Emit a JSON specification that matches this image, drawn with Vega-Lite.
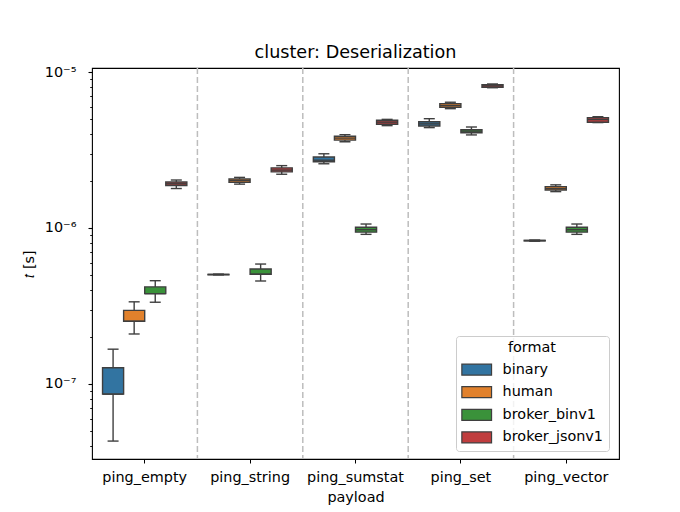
{
  "$schema": "https://vega.github.io/schema/vega-lite/v6.json",
  "width": 527,
  "height": 391,
  "autosize": {"type": "none"},
  "padding": {"left": 92, "top": 68, "right": 61, "bottom": 53},
  "background": "white",
  "title": {"text": "cluster: Deserialization", "fontSize": 17.6, "font": "DejaVu Sans", "fontWeight": "normal", "color": "black", "offset": -12, "baseline": "alphabetic", "anchor": "middle", "frame": "group"},
  "datasets": {
    "boxes": [
      {"payload": "ping_empty", "format": "binary", "lo": 4.3e-8, "q1": 8.6e-8, "med": 8.6e-8, "q3": 1.27e-7, "hi": 1.67e-7},
      {"payload": "ping_empty", "format": "human", "lo": 2.09e-7, "q1": 2.52e-7, "med": 2.52e-7, "q3": 2.96e-7, "hi": 3.36e-7},
      {"payload": "ping_empty", "format": "broker_binv1", "lo": 3.34e-7, "q1": 3.79e-7, "med": 3.79e-7, "q3": 4.19e-7, "hi": 4.59e-7},
      {"payload": "ping_empty", "format": "broker_jsonv1", "lo": 1.79e-6, "q1": 1.87e-6, "med": 1.92e-6, "q3": 1.97e-6, "hi": 2.03e-6},
      {"payload": "ping_string", "format": "binary", "lo": 5.0e-7, "q1": 5.01e-7, "med": 5.03e-7, "q3": 5.04e-7, "hi": 5.06e-7},
      {"payload": "ping_string", "format": "human", "lo": 1.91e-6, "q1": 1.96e-6, "med": 2.01e-6, "q3": 2.06e-6, "hi": 2.11e-6},
      {"payload": "ping_string", "format": "broker_binv1", "lo": 4.57e-7, "q1": 5.05e-7, "med": 5.05e-7, "q3": 5.46e-7, "hi": 5.87e-7},
      {"payload": "ping_string", "format": "broker_jsonv1", "lo": 2.21e-6, "q1": 2.29e-6, "med": 2.35e-6, "q3": 2.43e-6, "hi": 2.51e-6},
      {"payload": "ping_sumstat", "format": "binary", "lo": 2.58e-6, "q1": 2.66e-6, "med": 2.72e-6, "q3": 2.85e-6, "hi": 2.99e-6},
      {"payload": "ping_sumstat", "format": "human", "lo": 3.57e-6, "q1": 3.66e-6, "med": 3.77e-6, "q3": 3.87e-6, "hi": 3.97e-6},
      {"payload": "ping_sumstat", "format": "broker_binv1", "lo": 9.1e-7, "q1": 9.4e-7, "med": 9.75e-7, "q3": 1.01e-6, "hi": 1.06e-6},
      {"payload": "ping_sumstat", "format": "broker_jsonv1", "lo": 4.53e-6, "q1": 4.62e-6, "med": 4.77e-6, "q3": 4.9e-6, "hi": 4.97e-6},
      {"payload": "ping_set", "format": "binary", "lo": 4.4e-6, "q1": 4.51e-6, "med": 4.65e-6, "q3": 4.8e-6, "hi": 5.02e-6},
      {"payload": "ping_set", "format": "human", "lo": 5.82e-6, "q1": 5.94e-6, "med": 6.1e-6, "q3": 6.27e-6, "hi": 6.4e-6},
      {"payload": "ping_set", "format": "broker_binv1", "lo": 3.95e-6, "q1": 4.08e-6, "med": 4.18e-6, "q3": 4.27e-6, "hi": 4.44e-6},
      {"payload": "ping_set", "format": "broker_jsonv1", "lo": 7.93e-6, "q1": 7.98e-6, "med": 8.15e-6, "q3": 8.29e-6, "hi": 8.38e-6},
      {"payload": "ping_vector", "format": "binary", "lo": 8.22e-7, "q1": 8.26e-7, "med": 8.3e-7, "q3": 8.33e-7, "hi": 8.37e-7},
      {"payload": "ping_vector", "format": "human", "lo": 1.71e-6, "q1": 1.75e-6, "med": 1.79e-6, "q3": 1.84e-6, "hi": 1.89e-6},
      {"payload": "ping_vector", "format": "broker_binv1", "lo": 9.1e-7, "q1": 9.4e-7, "med": 9.75e-7, "q3": 1.01e-6, "hi": 1.06e-6},
      {"payload": "ping_vector", "format": "broker_jsonv1", "lo": 4.74e-6, "q1": 4.76e-6, "med": 4.95e-6, "q3": 5.09e-6, "hi": 5.17e-6}
    ],
    "dividers": [
      {"payload": "ping_empty"},
      {"payload": "ping_string"},
      {"payload": "ping_sumstat"},
      {"payload": "ping_set"}
    ]
  },
  "encoding": {
    "x": {
      "field": "payload", "type": "nominal", "title": "payload",
      "sort": ["ping_empty", "ping_string", "ping_sumstat", "ping_set", "ping_vector"],
      "scale": {"paddingInner": 0, "paddingOuter": 0},
      "axis": {"labelAngle": 0, "tickSize": 4, "labelPadding": 7, "titlePadding": 7}
    },
    "xOffset": {
      "field": "format", "type": "nominal",
      "sort": ["binary", "human", "broker_binv1", "broker_jsonv1"],
      "scale": {"paddingInner": 0, "paddingOuter": 0.5}
    }
  },
  "layer": [
    {
      "data": {"name": "dividers"},
      "mark": {"type": "rule", "color": "#bdbdbd", "strokeWidth": 1.5, "strokeDash": [6, 3]},
      "encoding": {
        "x": {"field": "payload", "type": "nominal", "bandPosition": 1, "title": "payload",
          "sort": ["ping_empty", "ping_string", "ping_sumstat", "ping_set", "ping_vector"]},
        "xOffset": null
      }
    },
    {
      "data": {"name": "boxes"},
      "mark": {"type": "rule", "color": "#3f3f3f", "strokeWidth": 1.4},
      "encoding": {
        "y": {
          "field": "lo", "type": "quantitative", "title": "𝑡 [s]",
          "scale": {"type": "log", "domain": [3.3e-8, 1.061e-5], "nice": false, "zero": false},
          "axis": {
            "values": [4e-8, 5e-8, 6e-8, 7e-8, 8e-8, 9e-8, 1e-7, 2e-7, 3e-7, 4e-7, 5e-7, 6e-7, 7e-7, 8e-7, 9e-7, 1e-6, 2e-6, 3e-6, 4e-6, 5e-6, 6e-6, 7e-6, 8e-6, 9e-6, 1e-5],
            "labelExpr": "datum.value == 1e-5 ? '10⁻⁵' : datum.value == 1e-6 ? '10⁻⁶' : datum.value == 1e-7 ? '10⁻⁷' : ''",
            "tickSize": {"condition": {"test": "datum.value == 1e-5 || datum.value == 1e-6 || datum.value == 1e-7", "value": 4}, "value": 2.3},
            "tickWidth": {"condition": {"test": "datum.value == 1e-5 || datum.value == 1e-6 || datum.value == 1e-7", "value": 1.1}, "value": 0.9},
            "labelPadding": 12, "titlePadding": 8
          }
        },
        "y2": {"field": "hi"}
      }
    },
    {
      "data": {"name": "boxes"},
      "mark": {"type": "bar", "stroke": "#3f3f3f", "strokeWidth": 1.4},
      "encoding": {
        "y": {"field": "q1", "type": "quantitative", "title": "𝑡 [s]"},
        "y2": {"field": "q3"},
        "color": {
          "field": "format", "type": "nominal", "title": "format",
          "sort": ["binary", "human", "broker_binv1", "broker_jsonv1"],
          "scale": {"domain": ["binary", "human", "broker_binv1", "broker_jsonv1"], "range": ["#3274a1", "#e1812c", "#3a923a", "#c03d3e"]},
          "legend": {
            "orient": "none", "legendX": 364, "legendY": 268,
            "padding": 5, "titleAnchor": "middle", "titlePadding": 7,
            "symbolType": "M-2.7,-1H2.7V1H-2.7Z", "symbolSize": 121,
            "symbolOffset": 8.5, "labelOffset": 18.7,
            "symbolStrokeColor": "#3f3f3f", "symbolStrokeWidth": 1.2, "symbolOpacity": 1,
            "rowPadding": 5.6,
            "strokeColor": "#cccccc", "fillColor": "rgba(255,255,255,0.8)", "cornerRadius": 3
          }
        }
      }
    },
    {
      "data": {"name": "boxes"},
      "mark": {"type": "tick", "color": "#3f3f3f", "thickness": 1.4, "size": 21, "opacity": 1},
      "encoding": {"y": {"field": "med", "type": "quantitative", "title": "𝑡 [s]"}}
    },
    {
      "data": {"name": "boxes"},
      "mark": {"type": "tick", "color": "#3f3f3f", "thickness": 1.4, "size": 11, "opacity": 1},
      "encoding": {"y": {"field": "lo", "type": "quantitative", "title": "𝑡 [s]"}}
    },
    {
      "data": {"name": "boxes"},
      "mark": {"type": "tick", "color": "#3f3f3f", "thickness": 1.4, "size": 11, "opacity": 1},
      "encoding": {"y": {"field": "hi", "type": "quantitative", "title": "𝑡 [s]"}}
    }
  ],
  "config": {
    "font": "DejaVu Sans",
    "view": {"stroke": "black", "strokeWidth": 1.1},
    "axis": {
      "labelFont": "DejaVu Sans", "labelFontSize": 14.4, "labelColor": "black",
      "titleFont": "DejaVu Sans", "titleFontSize": 14.4, "titleFontWeight": "normal", "titleColor": "black",
      "tickColor": "black", "domain": false, "grid": false
    },
    "legend": {
      "labelFont": "DejaVu Sans", "labelFontSize": 14.4, "labelColor": "black",
      "titleFont": "DejaVu Sans", "titleFontSize": 14.4, "titleFontWeight": "normal", "titleColor": "black"
    }
  }
}
